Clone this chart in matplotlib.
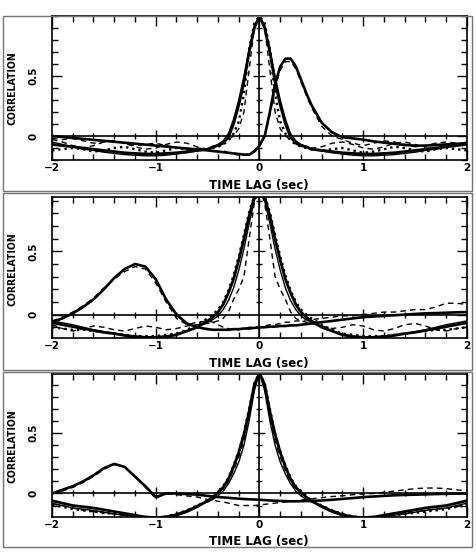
import matplotlib
matplotlib.use("Agg")
import matplotlib.pyplot as plt
from matplotlib import font_manager
from matplotlib.patches import Rectangle
from matplotlib.ticker import MultipleLocator, FixedLocator

# shared time-lag grid (sec)
lag = [-2.0, -1.9, -1.8, -1.7, -1.6, -1.5, -1.4, -1.3, -1.2, -1.1, -1.0, -0.9, -0.8, -0.7, -0.6, -0.5,
       -0.45, -0.4, -0.35, -0.3, -0.25, -0.2, -0.15, -0.1, -0.05, 0.0, 0.05, 0.1, 0.15, 0.2, 0.25, 0.3, 0.35, 0.4, 0.45,
       0.5, 0.6, 0.7, 0.8, 0.9, 1.0, 1.1, 1.2, 1.3, 1.4, 1.5, 1.6, 1.7, 1.8, 1.9, 2.0]

# ---- panel 1 ----
p1_auto_thick = [-0.07, -0.08, -0.09, -0.10, -0.11, -0.12, -0.13, -0.14, -0.145, -0.15, -0.15, -0.145, -0.14, -0.13, -0.12, -0.11,
                 -0.09, -0.08, -0.06, -0.01, 0.10, 0.26, 0.45, 0.70, 0.90, 1.00, 0.90, 0.70, 0.45, 0.26, 0.10, -0.01, -0.06, -0.08, -0.09,
                 -0.11, -0.12, -0.13, -0.14, -0.145, -0.15, -0.15, -0.145, -0.14, -0.13, -0.12, -0.11, -0.10, -0.09, -0.08, -0.07]
p1_auto_thin = [-0.05, -0.07, -0.09, -0.11, -0.12, -0.135, -0.145, -0.155, -0.16, -0.165, -0.165, -0.16, -0.15, -0.14, -0.125, -0.11,
                -0.09, -0.07, -0.04, 0.02, 0.14, 0.30, 0.50, 0.72, 0.92, 1.00, 0.92, 0.72, 0.50, 0.30, 0.14, 0.02, -0.04, -0.07, -0.09,
                -0.11, -0.125, -0.14, -0.15, -0.16, -0.165, -0.165, -0.16, -0.155, -0.145, -0.135, -0.12, -0.11, -0.09, -0.07, -0.05]
p1_auto_dot = [-0.12, -0.11, -0.10, -0.11, -0.13, -0.12, -0.10, -0.09, -0.11, -0.13, -0.14, -0.12, -0.10, -0.11, -0.12, -0.11,
               -0.10, -0.09, -0.07, -0.04, 0.02, 0.12, 0.35, 0.72, 0.94, 1.00, 0.94, 0.72, 0.35, 0.12, 0.02, -0.04, -0.07, -0.09, -0.10,
               -0.11, -0.12, -0.11, -0.10, -0.12, -0.14, -0.13, -0.11, -0.09, -0.10, -0.12, -0.13, -0.11, -0.10, -0.11, -0.12]
p1_auto_dash = [-0.03, -0.05, -0.08, -0.10, -0.08, -0.05, -0.04, -0.06, -0.09, -0.11, -0.10, -0.07, -0.05, -0.06, -0.09, -0.11,
                -0.10, -0.08, -0.05, -0.03, 0.00, 0.06, 0.20, 0.55, 0.90, 1.00, 0.90, 0.55, 0.20, 0.06, 0.00, -0.03, -0.05, -0.07, -0.09,
                -0.10, -0.09, -0.06, -0.05, -0.07, -0.10, -0.11, -0.09, -0.06, -0.05, -0.07, -0.10, -0.11, -0.09, -0.07, -0.06]
p1_cross_solid = [0.00, -0.008, -0.016, -0.024, -0.032, -0.04, -0.048, -0.056, -0.064, -0.072, -0.08, -0.088, -0.096, -0.104, -0.112, -0.12,
                  -0.125, -0.13, -0.135, -0.14, -0.145, -0.15, -0.155, -0.155, -0.13, -0.08, 0.00, 0.20, 0.43, 0.58, 0.645, 0.645, 0.58, 0.47, 0.36,
                  0.26, 0.11, 0.03, -0.01, -0.02, -0.03, -0.045, -0.055, -0.065, -0.075, -0.08, -0.08, -0.075, -0.07, -0.065, -0.06]
p1_cross_dash = [-0.02, -0.03, -0.02, -0.04, -0.06, -0.05, -0.04, -0.06, -0.08, -0.07, -0.06, -0.08, -0.10, -0.11, -0.10, -0.11,
                 -0.12, -0.13, -0.12, -0.14, -0.15, -0.16, -0.16, -0.15, -0.12, -0.07, 0.00, 0.17, 0.40, 0.55, 0.62, 0.62, 0.56, 0.45, 0.34,
                 0.24, 0.08, 0.00, -0.03, -0.06, -0.08, -0.06, -0.04, -0.05, -0.07, -0.09, -0.08, -0.06, -0.05, -0.06, -0.08]

# ---- panel 2 ----
p2_auto_thick = [-0.065, -0.08, -0.095, -0.11, -0.125, -0.14, -0.15, -0.165, -0.175, -0.18, -0.18, -0.175, -0.16, -0.13, -0.10, -0.05,
                 -0.02, 0.02, 0.08, 0.17, 0.28, 0.43, 0.60, 0.78, 0.93, 1.00, 0.93, 0.78, 0.60, 0.43, 0.28, 0.17, 0.08, 0.02, -0.02,
                 -0.05, -0.10, -0.13, -0.16, -0.175, -0.18, -0.18, -0.175, -0.165, -0.15, -0.14, -0.125, -0.11, -0.095, -0.08, -0.065]
p2_auto_thin = [-0.05, -0.065, -0.08, -0.10, -0.12, -0.135, -0.15, -0.16, -0.17, -0.175, -0.175, -0.17, -0.155, -0.13, -0.10, -0.06,
                -0.04, -0.01, 0.04, 0.11, 0.21, 0.35, 0.52, 0.72, 0.90, 1.00, 0.90, 0.72, 0.52, 0.35, 0.21, 0.11, 0.04, -0.01, -0.04,
                -0.06, -0.10, -0.13, -0.155, -0.17, -0.175, -0.175, -0.17, -0.16, -0.15, -0.135, -0.12, -0.10, -0.08, -0.065, -0.05]
p2_auto_dot = [-0.10, -0.11, -0.12, -0.12, -0.13, -0.14, -0.15, -0.16, -0.17, -0.17, -0.17, -0.16, -0.15, -0.12, -0.08, -0.03,
               0.00, 0.04, 0.10, 0.19, 0.31, 0.46, 0.63, 0.81, 0.94, 1.00, 0.94, 0.81, 0.63, 0.46, 0.31, 0.19, 0.10, 0.04, 0.00,
               -0.03, -0.08, -0.12, -0.15, -0.16, -0.17, -0.17, -0.17, -0.16, -0.15, -0.14, -0.13, -0.12, -0.12, -0.11, -0.10]
p2_auto_dash = [-0.08, -0.11, -0.13, -0.11, -0.09, -0.10, -0.12, -0.13, -0.11, -0.09, -0.10, -0.12, -0.11, -0.09, -0.08, -0.07,
                -0.06, -0.05, -0.03, 0.02, 0.12, 0.20, 0.30, 0.60, 0.88, 1.00, 0.88, 0.60, 0.30, 0.20, 0.12, 0.02, -0.03, -0.05, -0.06,
                -0.07, -0.09, -0.11, -0.10, -0.08, -0.09, -0.12, -0.13, -0.11, -0.08, -0.07, -0.09, -0.12, -0.13, -0.11, -0.10]
p2_cross_solid = [-0.06, -0.03, 0.01, 0.06, 0.12, 0.20, 0.29, 0.36, 0.40, 0.38, 0.28, 0.12, 0.00, -0.07, -0.10, -0.115,
                  -0.12, -0.12, -0.12, -0.12, -0.115, -0.115, -0.11, -0.11, -0.105, -0.10, -0.10, -0.095, -0.095, -0.09, -0.09, -0.085, -0.085, -0.08, -0.075,
                  -0.07, -0.06, -0.05, -0.04, -0.03, -0.02, -0.015, -0.01, -0.005, 0.00, 0.005, 0.01, 0.012, 0.015, 0.018, 0.02]
p2_cross_dash = [-0.05, -0.02, 0.02, 0.07, 0.13, 0.21, 0.28, 0.34, 0.38, 0.36, 0.25, 0.10, -0.03, -0.08, -0.06, -0.05,
                 -0.06, -0.08, -0.10, -0.11, -0.12, -0.12, -0.11, -0.10, -0.10, -0.10, -0.09, -0.08, -0.08, -0.07, -0.06, -0.06, -0.05, -0.05, -0.04,
                 -0.04, -0.03, -0.02, -0.01, -0.01, 0.00, 0.01, 0.02, 0.02, 0.03, 0.04, 0.04, 0.06, 0.09, 0.09, 0.08]

# ---- panel 3 ----
p3_auto_thick = [-0.06, -0.08, -0.10, -0.11, -0.12, -0.135, -0.15, -0.165, -0.18, -0.195, -0.20, -0.195, -0.18, -0.15, -0.11, -0.06,
                 -0.03, 0.01, 0.05, 0.12, 0.22, 0.34, 0.49, 0.68, 0.90, 1.00, 0.90, 0.68, 0.49, 0.34, 0.22, 0.12, 0.05, 0.01, -0.03,
                 -0.06, -0.11, -0.15, -0.18, -0.195, -0.20, -0.195, -0.18, -0.165, -0.15, -0.135, -0.12, -0.11, -0.10, -0.08, -0.06]
p3_auto_thin = [-0.08, -0.10, -0.12, -0.13, -0.14, -0.155, -0.17, -0.18, -0.19, -0.20, -0.20, -0.19, -0.17, -0.14, -0.10, -0.07,
                -0.05, -0.02, 0.02, 0.08, 0.16, 0.26, 0.40, 0.60, 0.85, 1.00, 0.85, 0.60, 0.40, 0.26, 0.16, 0.08, 0.02, -0.02, -0.05,
                -0.07, -0.10, -0.14, -0.17, -0.19, -0.20, -0.20, -0.19, -0.18, -0.17, -0.155, -0.14, -0.13, -0.12, -0.10, -0.08]
p3_auto_dot = [-0.10, -0.11, -0.13, -0.14, -0.15, -0.16, -0.17, -0.18, -0.19, -0.20, -0.20, -0.19, -0.17, -0.14, -0.10, -0.06,
               -0.02, 0.02, 0.06, 0.13, 0.23, 0.35, 0.50, 0.70, 0.91, 1.00, 0.91, 0.70, 0.50, 0.35, 0.23, 0.13, 0.06, 0.02, -0.02,
               -0.06, -0.10, -0.14, -0.17, -0.19, -0.20, -0.20, -0.19, -0.18, -0.17, -0.16, -0.15, -0.14, -0.13, -0.11, -0.10]
p3_auto_dash = [-0.09, -0.10, -0.12, -0.14, -0.15, -0.16, -0.17, -0.18, -0.19, -0.20, -0.20, -0.19, -0.17, -0.14, -0.10, -0.07,
                -0.04, 0.00, 0.04, 0.10, 0.19, 0.30, 0.44, 0.64, 0.88, 1.00, 0.88, 0.64, 0.44, 0.30, 0.19, 0.10, 0.04, 0.00, -0.04,
                -0.07, -0.10, -0.14, -0.17, -0.19, -0.20, -0.20, -0.19, -0.18, -0.16, -0.15, -0.14, -0.13, -0.12, -0.11, -0.09]
p3_cross_solid = [0.00, 0.03, 0.06, 0.10, 0.15, 0.21, 0.245, 0.22, 0.14, 0.06, -0.03, 0.00, 0.00, -0.005, -0.01, -0.02,
                  -0.025, -0.03, -0.033, -0.036, -0.04, -0.043, -0.046, -0.048, -0.05, -0.052, -0.055, -0.058, -0.06, -0.062, -0.064, -0.065, -0.065, -0.064, -0.063,
                  -0.062, -0.058, -0.052, -0.045, -0.038, -0.03, -0.025, -0.02, -0.015, -0.012, -0.01, -0.007, -0.005, -0.003, -0.001, 0.00]
p3_cross_dash = [0.00, 0.02, 0.05, 0.09, 0.14, 0.20, 0.24, 0.22, 0.14, 0.05, -0.04, 0.00, -0.01, -0.02, -0.03, -0.05,
                 -0.055, -0.065, -0.07, -0.08, -0.09, -0.10, -0.10, -0.10, -0.10, -0.095, -0.09, -0.085, -0.08, -0.075, -0.07, -0.065, -0.06, -0.055, -0.05,
                 -0.045, -0.035, -0.025, -0.02, -0.01, -0.005, 0.00, 0.01, 0.02, 0.03, 0.04, 0.045, 0.045, 0.04, 0.03, 0.02]

panels = [
    [p1_auto_thick, p1_auto_thin, p1_auto_dot, p1_auto_dash, p1_cross_solid, p1_cross_dash],
    [p2_auto_thick, p2_auto_thin, p2_auto_dot, p2_auto_dash, p2_cross_solid, p2_cross_dash],
    [p3_auto_thick, p3_auto_thin, p3_auto_dot, p3_auto_dash, p3_cross_solid, p3_cross_dash],
]
ylims = [(-0.2, 1.0), (-0.185, 0.93), (-0.195, 0.99)]

styles = [dict(ls='-', lw=2.0), dict(ls='-', lw=1.0), dict(ls=':', lw=1.7),
          dict(ls=(0, (4, 3)), lw=1.0), dict(ls='-', lw=1.9), dict(ls=(0, (4, 3)), lw=1.0)]

# a narrow face for the squeezed y label, if one is installed
names = {f.name for f in font_manager.fontManager.ttflist}
cond = [f for f in font_manager.fontManager.ttflist
        if f.name == 'DejaVu Sans' and 'ondensed' in str(f.stretch) + f.fname]
if 'Liberation Sans Narrow' in names:
    ylab_font = dict(family='Liberation Sans Narrow', weight='bold', size=9)
elif cond:
    ylab_font = dict(family='DejaVu Sans', stretch='condensed', weight='bold', size=7.5)
else:
    ylab_font = dict(family='DejaVu Sans', weight='bold', size=6.3)

W, H = 477, 553
fig = plt.figure(figsize=(W / 100, H / 100), dpi=100)

# axes boxes in pixels: (left, top, right, bottom)
boxes = [(52, 16, 467, 160), (52, 197, 467, 338), (52, 374, 467, 517)]
frames = [(3, 16, 472, 191), (3, 193, 472, 370), (3, 372, 472, 547)]

tick_font = dict(family='DejaVu Sans', weight='bold', size=7.5)

for i in range(3):
    l, t, r, b = boxes[i]
    ax = fig.add_axes([l / W, 1 - b / H, (r - l) / W, (b - t) / H])
    for y, st in zip(panels[i], styles):
        ax.plot(lag, y, color='black', **st)

    ax.set_xlim(-2, 2)
    ax.set_ylim(*ylims[i])
    ax.xaxis.set_major_locator(MultipleLocator(1))
    ax.xaxis.set_minor_locator(MultipleLocator(0.2))
    ax.yaxis.set_major_locator(FixedLocator([0, 0.5]))
    ax.yaxis.set_minor_locator(MultipleLocator(0.1))
    ax.tick_params(which='both', direction='in', top=True, right=True, width=1.0)
    ax.tick_params(which='major', length=7)
    ax.tick_params(which='minor', length=4)
    ax.tick_params(axis='x', pad=2)
    ax.tick_params(axis='y', pad=10)
    ax.set_xticks([-2, -1, 0, 1, 2])
    ax.set_xticklabels(['\u22122', '\u22121', '0', '1', '2'], **tick_font)
    ax.set_yticks([0, 0.5])
    ax.set_yticklabels(['0', '0.5'], rotation=90, va='center', **tick_font)
    for s in ax.spines.values():
        s.set_linewidth(1.2)

    # axis lines through the origin, with ticks on them
    ax.axhline(0, color='black', lw=1.2)
    ax.axvline(0, color='black', lw=1.2)
    xm = [v for v in ax.xaxis.get_minorticklocs() if -2 < v < 2]
    ax.plot(xm, [0] * len(xm), ls='none', marker='|', ms=5, mew=1.0, color='black')
    ax.plot([-1, 1], [0, 0], ls='none', marker='|', ms=9, mew=1.0, color='black')
    ym = [v for v in ax.yaxis.get_minorticklocs() if ylims[i][0] < v < ylims[i][1]]
    ax.plot([0] * len(ym), ym, ls='none', marker='_', ms=5, mew=1.0, color='black')
    ax.plot([0], [0.5], ls='none', marker='_', ms=9, mew=1.0, color='black')

    # labels
    fig.text(259 / W, 1 - (b + 25) / H, 'TIME LAG (sec)', ha='center', va='center',
             family='DejaVu Sans', weight='bold', size=8.5)
    fig.text(13 / W, 1 - (t + 72) / H, 'CORRELATION', rotation=90, ha='center', va='center',
             **ylab_font)

    fl, ft, fr, fb = frames[i]
    fig.add_artist(Rectangle((fl / W, 1 - fb / H), (fr - fl) / W, (fb - ft) / H,
                             transform=fig.transFigure, fill=False, ec='0.45', lw=1.0))

fig.savefig('out.png', dpi=100)
